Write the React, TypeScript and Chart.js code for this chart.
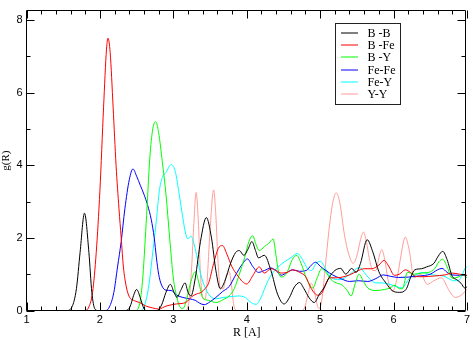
import React, { useEffect, useRef } from "react";
import { Chart, registerables } from "chart.js";

Chart.register(...registerables);

const seriesLabels = ["B -B", "B -Fe", "B -Y", "Fe-Fe", "Fe-Y", "Y-Y"];
const seriesColors = ["#000000", "#ff0000", "#00ff00", "#0000ff", "#00ffff", "#ff9d96"];

const xTickValues = [1, 2, 3, 4, 5, 6, 7];
const yTickValues = [0, 2, 4, 6, 8];

// [R, g(R)]
const BB: [number, number][] = [
  [1.0, 0], [1.55, 0], [1.62, 0.1], [1.68, 0.6], [1.73, 1.6], [1.79, 2.68], [1.85, 1.6], [1.89, 0.5],
  [1.93, 0.05], [1.97, 0], [2.35, 0], [2.41, 0.1], [2.46, 0.42], [2.5, 0.58], [2.55, 0.35], [2.6, 0.05],
  [2.64, 0], [2.78, 0], [2.84, 0.15], [2.9, 0.5], [2.96, 0.72], [3.01, 0.5], [3.05, 0.36], [3.1, 0.55],
  [3.16, 0.76], [3.2, 0.5], [3.24, 0.4], [3.3, 0.9], [3.37, 1.9], [3.45, 2.56], [3.52, 2.0], [3.58, 1.1],
  [3.64, 0.6], [3.7, 0.8], [3.78, 1.3], [3.85, 1.6], [3.9, 1.65], [3.96, 1.52], [4.02, 1.7], [4.07, 1.9],
  [4.12, 1.65], [4.16, 1.45], [4.24, 1.52], [4.33, 1.1], [4.42, 0.45], [4.51, 0.18], [4.58, 0.35],
  [4.65, 0.65], [4.72, 0.77], [4.78, 0.6], [4.85, 0.35], [4.92, 0.22], [4.99, 0.45], [5.06, 0.65],
  [5.12, 0.9], [5.2, 1.1], [5.28, 1.16], [5.35, 1.0], [5.43, 1.16], [5.49, 1.05], [5.55, 1.3],
  [5.64, 1.95], [5.72, 1.6], [5.8, 1.07], [5.9, 0.75], [5.98, 0.55], [6.08, 0.5], [6.17, 0.58],
  [6.24, 0.95], [6.29, 1.12], [6.38, 1.15], [6.45, 1.2], [6.55, 1.3], [6.61, 1.5], [6.67, 1.63],
  [6.73, 1.4], [6.8, 0.94], [6.86, 0.85], [6.92, 0.75], [6.97, 0.62], [7.0, 0.65],
];

const BFe: [number, number][] = [
  [1.0, 0], [1.8, 0], [1.85, 0.1], [1.9, 0.5], [1.95, 1.6], [2.0, 3.3], [2.05, 5.6], [2.09, 7.2],
  [2.11, 7.5], [2.14, 7.1], [2.18, 5.6], [2.22, 4.0], [2.26, 2.8], [2.29, 2.0], [2.32, 1.2], [2.36, 0.65],
  [2.4, 0.38], [2.47, 0.27], [2.54, 0.22], [2.62, 0.13], [2.72, 0.07], [2.8, 0.04], [2.9, 0.12],
  [3.04, 0.18], [3.17, 0.22], [3.25, 0.38], [3.31, 0.45], [3.38, 0.5], [3.43, 0.6], [3.48, 0.75],
  [3.55, 1.3], [3.61, 1.7], [3.67, 1.79], [3.73, 1.55], [3.8, 1.2], [3.87, 0.98], [3.94, 0.8],
  [4.0, 0.73], [4.08, 0.95], [4.17, 1.2], [4.24, 1.03], [4.33, 1.15], [4.4, 1.1], [4.47, 1.03],
  [4.55, 1.05], [4.63, 1.12], [4.72, 1.05], [4.8, 0.94], [4.88, 0.6], [4.97, 0.42], [5.03, 0.5],
  [5.08, 0.75], [5.13, 0.9], [5.21, 0.9], [5.3, 0.92], [5.4, 0.98], [5.5, 1.08], [5.6, 1.15],
  [5.7, 1.15], [5.8, 1.25], [5.87, 1.38], [5.94, 1.2], [6.01, 0.97], [6.08, 1.0], [6.16, 1.12],
  [6.23, 1.05], [6.3, 0.94], [6.4, 0.93], [6.55, 0.95], [6.7, 0.98], [6.8, 1.03], [6.9, 1.0], [7.0, 0.97],
];

const BY: [number, number][] = [
  [1.0, 0], [2.48, 0], [2.53, 0.1], [2.58, 0.8], [2.63, 2.4], [2.68, 4.2], [2.72, 5.0], [2.76, 5.2],
  [2.8, 4.9], [2.85, 4.1], [2.9, 3.2], [2.95, 2.0], [3.0, 0.9], [3.05, 0.35], [3.09, 0.1], [3.13, 0.05],
  [3.18, 0.3], [3.24, 0.8], [3.3, 1.07], [3.35, 0.75], [3.4, 0.36], [3.48, 0.28], [3.58, 0.22],
  [3.68, 0.3], [3.76, 0.4], [3.83, 0.6], [3.9, 1.0], [3.97, 1.45], [4.03, 1.9], [4.08, 2.06],
  [4.13, 1.8], [4.17, 1.65], [4.24, 1.76], [4.3, 1.85], [4.36, 1.97], [4.4, 1.5], [4.44, 1.0],
  [4.48, 0.92], [4.55, 1.05], [4.62, 1.4], [4.68, 1.52], [4.74, 1.3], [4.82, 0.85], [4.9, 0.62],
  [4.96, 0.9], [5.02, 1.15], [5.08, 1.05], [5.15, 0.85], [5.22, 0.76], [5.3, 0.7], [5.37, 0.55],
  [5.42, 0.4], [5.48, 0.75], [5.53, 1.0], [5.59, 0.8], [5.65, 0.62], [5.76, 0.55], [5.88, 0.58],
  [5.95, 0.62], [6.02, 0.7], [6.08, 0.6], [6.12, 0.6], [6.19, 1.05], [6.28, 1.0], [6.38, 1.03],
  [6.48, 1.05], [6.56, 1.15], [6.62, 1.35], [6.67, 1.41], [6.73, 1.2], [6.8, 0.89], [6.88, 0.92],
  [6.94, 0.98], [7.0, 0.9],
];

const FeFe: [number, number][] = [
  [1.0, 0], [2.08, 0], [2.13, 0.1], [2.19, 0.5], [2.24, 1.2], [2.29, 1.9], [2.34, 2.8], [2.4, 3.6],
  [2.45, 3.9], [2.5, 3.7], [2.55, 3.45], [2.6, 3.2], [2.65, 2.9], [2.7, 2.5], [2.74, 2.0], [2.77, 1.45],
  [2.8, 1.0], [2.84, 0.7], [2.9, 0.56], [2.97, 0.55], [3.05, 0.42], [3.13, 0.36], [3.22, 0.32],
  [3.3, 0.28], [3.36, 0.2], [3.42, 0.16], [3.5, 0.24], [3.58, 0.36], [3.67, 0.52], [3.76, 0.66],
  [3.85, 0.98], [3.93, 1.25], [4.01, 1.42], [4.08, 1.22], [4.16, 1.05], [4.24, 1.1], [4.33, 1.17],
  [4.4, 1.1], [4.47, 0.97], [4.55, 1.05], [4.62, 1.12], [4.72, 1.08], [4.81, 1.1], [4.88, 1.25],
  [4.94, 1.33], [5.0, 1.22], [5.08, 1.1], [5.17, 0.98], [5.28, 0.88], [5.4, 0.8], [5.52, 0.82],
  [5.65, 0.8], [5.76, 0.88], [5.86, 0.98], [5.96, 0.94], [6.07, 0.91], [6.2, 0.92], [6.35, 0.95],
  [6.5, 1.0], [6.6, 1.12], [6.66, 1.16], [6.73, 1.05], [6.8, 0.98], [6.9, 0.97], [7.0, 0.96],
];

const FeY: [number, number][] = [
  [1.0, 0], [2.55, 0], [2.6, 0.1], [2.66, 0.6], [2.72, 1.6], [2.77, 2.5], [2.81, 3.3], [2.85, 3.66],
  [2.9, 3.8], [2.97, 4.02], [3.03, 3.8], [3.08, 3.2], [3.13, 2.55], [3.17, 2.1], [3.2, 1.97],
  [3.24, 2.05], [3.28, 1.85], [3.33, 1.4], [3.38, 0.95], [3.44, 0.6], [3.5, 0.4], [3.58, 0.32],
  [3.68, 0.36], [3.78, 0.38], [3.88, 0.4], [3.98, 0.36], [4.06, 0.22], [4.13, 0.17], [4.2, 0.38],
  [4.28, 0.78], [4.36, 1.05], [4.44, 1.22], [4.52, 1.35], [4.6, 1.45], [4.69, 1.57], [4.76, 1.4],
  [4.83, 1.15], [4.88, 1.1], [4.94, 1.28], [5.0, 1.36], [5.06, 1.2], [5.12, 0.98], [5.2, 0.86],
  [5.27, 0.85], [5.35, 0.92], [5.42, 1.02], [5.5, 1.16], [5.54, 1.18], [5.6, 1.05], [5.67, 0.88],
  [5.76, 0.76], [5.85, 0.76], [5.95, 0.72], [6.05, 0.65], [6.12, 0.62], [6.17, 0.75], [6.22, 0.9],
  [6.3, 0.98], [6.39, 1.05], [6.48, 1.0], [6.58, 0.97], [6.68, 0.95], [6.75, 0.88], [6.82, 0.82],
  [6.88, 0.82], [6.94, 1.0], [6.98, 1.18], [7.0, 1.2],
];

const YY: [number, number][] = [
  [1.0, 0], [3.16, 0], [3.21, 0.2], [3.25, 1.2], [3.28, 2.4], [3.31, 3.25], [3.34, 2.5], [3.37, 1.0],
  [3.4, 0.35], [3.43, 0.3], [3.46, 0.8], [3.5, 2.2], [3.55, 3.32], [3.58, 2.6], [3.61, 1.3],
  [3.64, 0.62], [3.68, 0.6], [3.72, 0.95], [3.76, 1.07], [3.79, 0.75], [3.82, 0.2], [3.86, 0],
  [4.76, 0], [4.8, 0.15], [4.84, 0.5], [4.88, 0.75], [4.92, 0.55], [4.96, 0.15], [4.99, 0.05],
  [5.03, 0.4], [5.07, 1.2], [5.12, 2.2], [5.17, 2.95], [5.22, 3.24], [5.27, 2.95], [5.33, 2.1],
  [5.39, 1.55], [5.45, 1.3], [5.5, 1.5], [5.55, 1.95], [5.59, 2.16], [5.63, 1.9], [5.67, 1.43],
  [5.72, 1.1], [5.76, 1.1], [5.8, 1.45], [5.84, 1.68], [5.88, 1.4], [5.93, 0.8], [5.99, 0.54],
  [6.05, 0.9], [6.1, 1.5], [6.16, 2.02], [6.21, 1.7], [6.28, 0.9], [6.37, 1.0], [6.46, 0.72],
  [6.55, 0.82], [6.65, 0.9], [6.76, 0.54], [6.84, 0.36], [6.94, 0.45], [7.0, 0.6],
];

const allSeries = [BB, BFe, BY, FeFe, FeY, YY];

const frameAndTicks = {
  id: "frameAndTicks",
  afterDatasetsDraw(chart: any) {
    const { ctx, chartArea: a, scales } = chart;
    const xs = scales.x;
    const ys = scales.y;
    const L = Math.floor(a.left) + 0.5;
    const R = Math.floor(a.right) - 0.5;
    const T = Math.floor(a.top) + 0.5;
    const B = Math.floor(a.bottom) + 0.5;
    ctx.save();
    ctx.strokeStyle = "#000";
    ctx.lineWidth = 1;
    ctx.beginPath();
    ctx.rect(L, T, R - L, B - T);
    for (let i = 0; i <= 30; i++) {
      const v = 1 + i * 0.2;
      const px = Math.round(xs.getPixelForValue(v)) + 0.5;
      const len = i % 5 === 0 ? 8 : 4;
      ctx.moveTo(px, B);
      ctx.lineTo(px, B - len);
      ctx.moveTo(px, T);
      ctx.lineTo(px, T + len);
    }
    for (let i = 0; i <= 8; i++) {
      const py = Math.round(ys.getPixelForValue(i)) + 0.5;
      const len = i % 2 === 0 ? 8 : 4;
      ctx.moveTo(L, py);
      ctx.lineTo(L + len, py);
      ctx.moveTo(R, py);
      ctx.lineTo(R - len, py);
    }
    ctx.stroke();
    ctx.restore();
  },
};

const boxLegend = {
  id: "boxLegend",
  afterDraw(chart: any) {
    const { ctx } = chart;
    const ds = chart.data.datasets;
    ctx.save();
    ctx.fillStyle = "#fff";
    ctx.fillRect(336, 24, 64, 80);
    ctx.strokeStyle = "#222";
    ctx.lineWidth = 1;
    ctx.strokeRect(335.5, 23.5, 65, 81);
    ctx.font = "12px 'Liberation Serif'";
    ctx.textBaseline = "middle";
    ctx.textAlign = "left";
    ds.forEach((d: any, i: number) => {
      const y = Math.round(32.7 + i * 12.3);
      ctx.strokeStyle = seriesColors[i];
      ctx.lineWidth = 1;
      ctx.beginPath();
      ctx.moveTo(341, y);
      ctx.lineTo(358, y);
      ctx.stroke();
      ctx.fillStyle = "#000";
      ctx.fillText(d.label, 367.5, y + 0.5);
    });
    ctx.restore();
  },
};

export default function App() {
  const ref = useRef<HTMLCanvasElement>(null);
  useEffect(() => {
    const canvas = ref.current;
    if (!canvas) return;
    const chart = new Chart(canvas, {
      type: "line",
      data: {
        datasets: allSeries.map((s, i) => ({
          label: seriesLabels[i],
          data: s.map(([x, y]) => ({ x, y })),
          borderColor: seriesColors[i],
          backgroundColor: seriesColors[i],
          borderWidth: 1,
          pointRadius: 0,
          fill: false,
          cubicInterpolationMode: "monotone" as const,
        })),
      },
      options: {
        responsive: false,
        animation: false,
        devicePixelRatio: 1,
        layout: { padding: { left: 0, right: 5, top: 2, bottom: 0 } },
        plugins: { legend: { display: false }, tooltip: { enabled: false } },
        scales: {
          x: {
            type: "linear",
            min: 1,
            max: 7,
            afterBuildTicks: (scale: any) => {
              scale.ticks = xTickValues.map((v) => ({ value: v }));
            },
            afterFit: (scale: any) => {
              scale.height = 29.5;
            },
            grid: { display: false, drawTicks: false },
            border: { display: false },
            ticks: {
              color: "#000",
              padding: 3,
              font: { family: "'Liberation Sans'", size: 11 },
            },
            title: {
              display: true,
              text: "R [A]",
              color: "#000",
              font: { family: "'Liberation Serif'", size: 12 },
              padding: { top: 0, bottom: 0 },
            },
          },
          y: {
            type: "linear",
            min: 0,
            max: 8.26,
            afterBuildTicks: (scale: any) => {
              scale.ticks = yTickValues.map((v) => ({ value: v }));
            },
            afterFit: (scale: any) => {
              scale.width = 26.5;
            },
            grid: { display: false, drawTicks: false },
            border: { display: false },
            ticks: {
              color: "#000",
              padding: 4,
              font: { family: "'Liberation Sans'", size: 11 },
            },
            title: {
              display: true,
              text: "g(R)",
              color: "#000",
              font: { family: "'Liberation Serif'", size: 11 },
              padding: { top: 0, bottom: 0 },
            },
          },
        },
      },
      plugins: [frameAndTicks, boxLegend],
    });
    return () => chart.destroy();
  }, []);
  return (
    <div style={{ position: "fixed", left: 0, top: 0, width: 473, height: 340, background: "#fff" }}>
      <canvas ref={ref} width={473} height={340} style={{ display: "block" }} />
    </div>
  );
}
